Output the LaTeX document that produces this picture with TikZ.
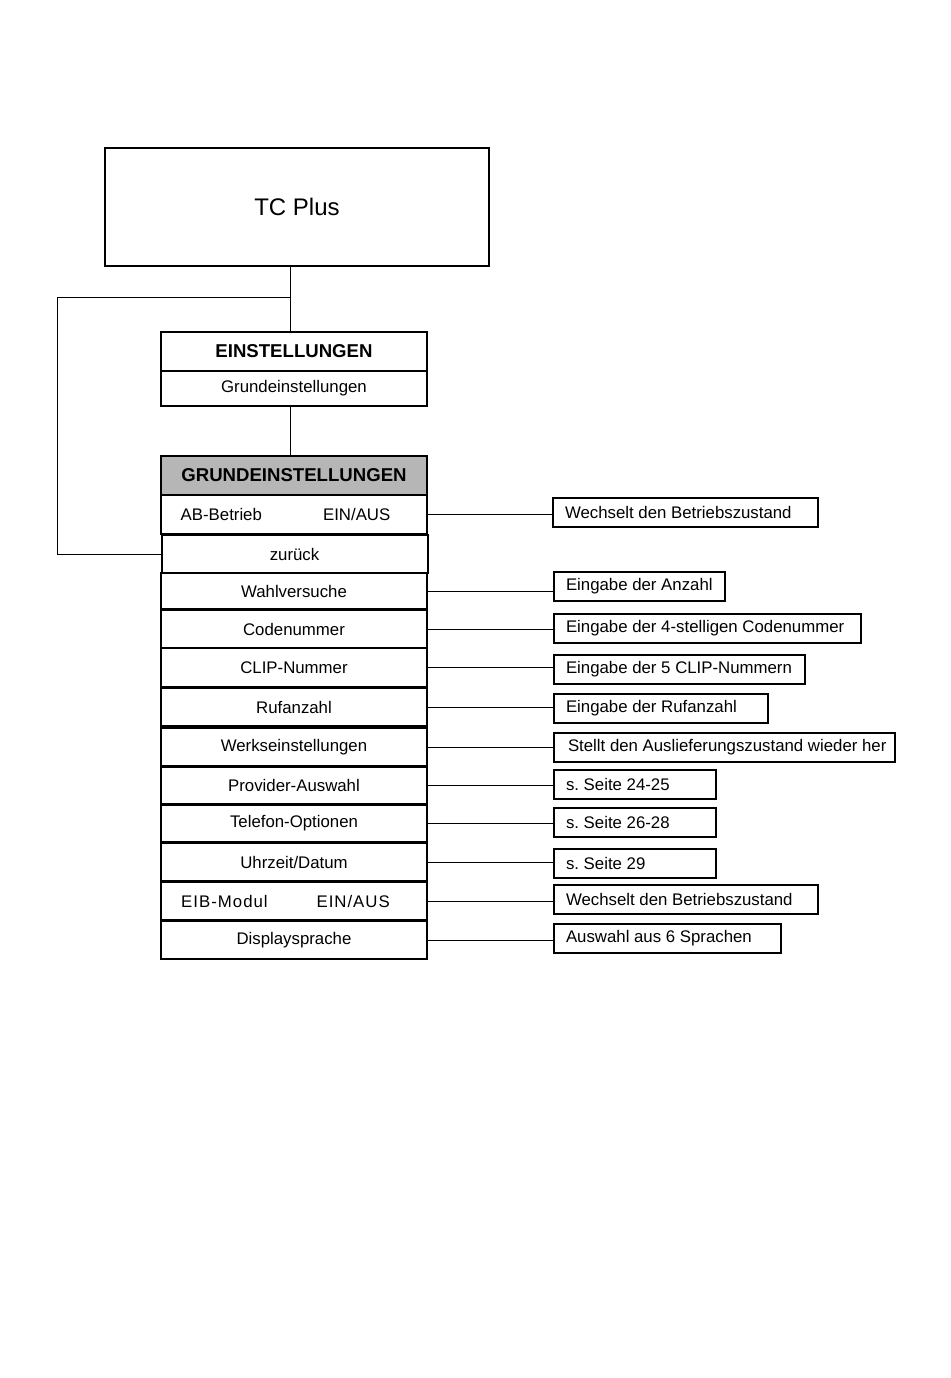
\documentclass[tikz,border=0pt]{standalone}
\usepackage{fontspec}
\setmainfont{Liberation Sans}
\newcommand\fsz{\fontsize{16.8}{20}\selectfont\frenchspacing}
\newcommand\fbold{\fontsize{18.6}{22}\selectfont\bfseries}
\newcommand\lefttext[2]{\makebox[#1pt][l]{#2}}
\definecolor{hdrgray}{RGB}{182,182,182}
\begin{document}
\begin{tikzpicture}[x=1pt,y=-1pt,
  box/.style={draw, line width=2pt, inner sep=0pt, font=\fsz},
  row/.style={box, minimum width=266, minimum height=38},
  rbox/.style={box, anchor=west, minimum height=29, inner xsep=12pt, inner ysep=0pt},
  conn/.style={line width=0.9pt},
  lbl/.style={inner sep=0pt, font=\fsz}]
\useasboundingbox[fill=white] (0,0) rectangle (950,1378);

% top
\node[box, minimum width=384, minimum height=118, font=\fontsize{24}{28}\selectfont] (tc) at (297,207) {TC Plus};
\node[box, minimum width=266, minimum height=39, font=\fbold] (einst) at (294,351.5) {EINSTELLUNGEN};
\node[box, minimum width=266, minimum height=35] (einstg) at (294,388.5) {Grundeinstellungen};
\node[box, fill=hdrgray, minimum width=266, minimum height=39, font=\fbold] (grund) at (294,475.5) {GRUNDEINSTELLUNGEN};

% menu rows
\node[row, minimum height=39] (ab) at (293.5,514.5) {};
\node[lbl, anchor=west] (abl) at ([xshift=21pt]ab.west) {AB-Betrieb};
\node[lbl, anchor=east] (abr) at ([xshift=-37pt]ab.east) {EIN/AUS};
\node[row] (zur) at (294.5,554) {zur\"uck};
\node[row, minimum height=36] (wahl) at (294,591) {Wahlversuche};
\node[row] (code) at (294,629) {Codenummer};
\node[row, minimum height=39] (clip) at (294,667.5) {CLIP-Nummer};
\node[row] (ruf) at (294,707) {Rufanzahl};
\node[row] (werk) at (294,747) {Werkseinstellungen};
\node[row, minimum height=37] (prov) at (294,785.5) {Provider-Auswahl};
\node[row, minimum height=37] (tel) at (294,823.5) {Telefon-Optionen};
\node[row] (uhr) at (294,862) {Uhrzeit/Datum};
\node[row] (eib) at (294,901) {};
\node[lbl, anchor=west] (eibl) at ([xshift=21pt]eib.west) {\addfontfeature{LetterSpace=6}EIB-Modul};
\node[lbl, anchor=east] (eibr) at ([xshift=-38pt]eib.east) {\addfontfeature{LetterSpace=6}EIN/AUS};
\node[row] (disp) at (294,940) {Displaysprache};

% right boxes
\node[rbox] (b1) at (552,512.5) {\lefttext{241}{Wechselt den Betriebszustand}};
\node[rbox] (b2) at (553,586) {\lefttext{147}{Eingabe der Anzahl}};
\node[rbox] (b3) at (553,628.5) {\lefttext{283}{Eingabe der 4-stelligen Codenummer}};
\node[rbox] (b4) at (553,669.5) {\lefttext{227}{Eingabe der 5 CLIP-Nummern}};
\node[rbox] (b5) at (553,708.5) {\lefttext{190}{Eingabe der Rufanzahl}};
\node[rbox, inner xsep=14pt] (b6) at (553,747.5) {\lefttext{313}{Stellt den Auslieferungszustand wieder her}};
\node[rbox] (b7) at (553,784.5) {\lefttext{138}{s. Seite 24-25}};
\node[rbox] (b8) at (553,822.5) {\lefttext{138}{s. Seite 26-28}};
\node[rbox] (b9) at (553,863.5) {\lefttext{138}{s. Seite 29}};
\node[rbox] (b10) at (553,899.5) {\lefttext{240}{Wechselt den Betriebszustand}};
\node[rbox] (b11) at (553,938.5) {\lefttext{203}{Auswahl aus 6 Sprachen}};

% vertical connectors
\coordinate (j) at (290,297);
\coordinate (lp) at (57,297);
\draw[conn] (j |- tc.south) -- (j |- einst.north);
\draw[conn] (j) -- (lp) |- (zur.west);
\draw[conn] (j |- einstg.south) -- (j |- grund.north);

% horizontal connectors
\foreach \r/\b in {ab/b1, wahl/b2, code/b3, clip/b4, ruf/b5, werk/b6, prov/b7, tel/b8, uhr/b9, eib/b10, disp/b11}
  \draw[conn] (\r.east) -- (\r.east -| \b.west);
\end{tikzpicture}
\end{document}
